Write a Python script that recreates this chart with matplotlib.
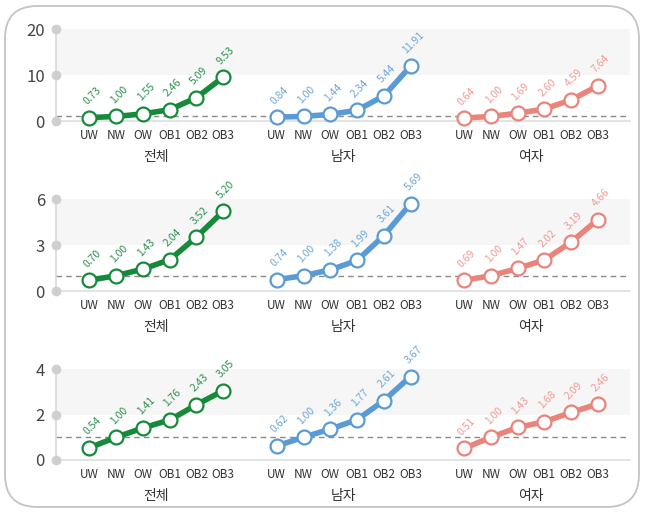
import matplotlib.pyplot as plt
from matplotlib.patches import FancyBboxPatch

plt.rcParams['font.family'] = ['Noto Sans CJK KR', 'DejaVu Sans']

# categories and groups
cats = ['UW', 'NW', 'OW', 'OB1', 'OB2', 'OB3']
groups = ['전체', '남자', '여자']

# row 1
r1_total = [0.73, 1.00, 1.55, 2.46, 5.09, 9.53]
r1_male = [0.84, 1.00, 1.44, 2.34, 5.44, 11.91]
r1_female = [0.64, 1.00, 1.69, 2.60, 4.59, 7.64]
# row 2
r2_total = [0.70, 1.00, 1.43, 2.04, 3.52, 5.20]
r2_male = [0.74, 1.00, 1.38, 1.99, 3.61, 5.69]
r2_female = [0.69, 1.00, 1.47, 2.02, 3.19, 4.66]
# row 3
r3_total = [0.54, 1.00, 1.41, 1.76, 2.43, 3.05]
r3_male = [0.62, 1.00, 1.36, 1.77, 2.61, 3.67]
r3_female = [0.51, 1.00, 1.43, 1.68, 2.09, 2.46]

row_ticks = [[0, 10, 20], [0, 3, 6], [0, 2, 4]]
rows = [[r1_total, r1_male, r1_female],
        [r2_total, r2_male, r2_female],
        [r3_total, r3_male, r3_female]]

line_colors = ['#168a3a', '#5b9bd5', '#ea847b']
text_colors = ['#2e9050', '#6ea6d9', '#f29a92']

W, H = 648, 514
fig = plt.figure(figsize=(W / 100, H / 100), dpi=100)

# rounded frame
frame = FancyBboxPatch((5 / W, 7 / H), 634 / W, 501 / H,
                       boxstyle='round,pad=0,rounding_size=0.05',
                       transform=fig.transFigure, facecolor='none',
                       edgecolor='#c4c4c4', lw=1.3, mutation_aspect=W / H, zorder=-1)
fig.patches.append(frame)

# axes placement in pixels: (top, bottom)
row_px = [(29, 121), (199, 291), (369, 460)]
left_px, right_px = 56, 630
xmin, xmax = -1.25, 20.2

for r, (top, bot) in enumerate(row_px):
    ax = fig.add_axes([left_px / W, 1 - bot / H, (right_px - left_px) / W, (bot - top) / H])
    ax.patch.set_alpha(0)
    ticks = row_ticks[r]
    ax.set_xlim(xmin, xmax)
    ax.set_ylim(ticks[0], ticks[-1])

    # shaded band and base lines
    ax.axhspan(ticks[1], ticks[2], color='#f6f6f6', zorder=0, lw=0)
    ax.axhline(0, color='#dedede', lw=1.2, zorder=1, clip_on=False)
    ax.axhline(1, color='#8a8a8a', lw=1.0, ls=(0, (4, 3)), zorder=1)
    ax.plot([xmin, xmin], [ticks[0], ticks[-1]], color='#d8d8d8', lw=1.2,
            clip_on=False, zorder=2)
    ax.plot([xmin] * 3, ticks, 'o', color='#cfcfcf', ms=6, clip_on=False, zorder=3)

    xpos = []
    for g, series in enumerate(rows[r]):
        xs = [g * 7 + i for i in range(len(cats))]
        xpos += xs
        ax.plot(xs, series, color=line_colors[g], lw=4, marker='o', ms=10,
                mfc='white', mec=line_colors[g], mew=1.6, clip_on=False, zorder=4)
        for x, v in zip(xs, series):
            ax.annotate(f'{v:.2f}', (x, v), xytext=(2, 8), textcoords='offset points',
                        rotation=45, ha='center', va='bottom', fontsize=7.5,
                        color=text_colors[g], zorder=5)
        ax.annotate(groups[g], (g * 7 + 2.5, 0), xycoords=('data', 'axes fraction'),
                    xytext=(0, -26), textcoords='offset points', ha='center',
                    va='center', fontsize=10, color='#333333')

    ax.set_xticks(xpos, labels=cats * 3, fontsize=8.5, color='#333333')
    ax.set_yticks(ticks, labels=[str(t) for t in ticks], fontsize=12, color='#444444')
    ax.tick_params(length=0, axis='x', pad=6)
    ax.tick_params(length=0, axis='y', pad=8)
    for s in ax.spines.values():
        s.set_visible(False)

fig.savefig('out.png', dpi=100)
